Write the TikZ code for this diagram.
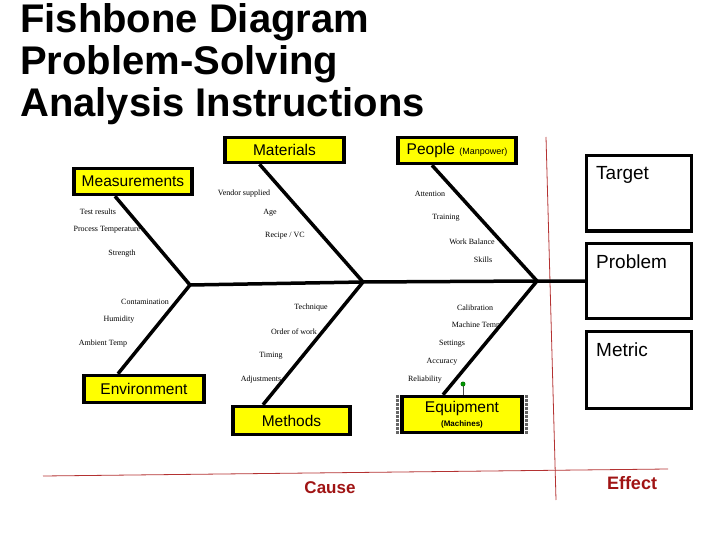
\documentclass[tikz,border=0pt]{standalone}
\usepackage{fontspec}
\usepackage{tikz}
\usetikzlibrary{calc}
\newfontfamily\arialf{Liberation Sans}
\newfontfamily\tnrf{Liberation Serif}
\definecolor{causered}{RGB}{160,20,20}
\definecolor{gridred}{RGB}{180,50,50}
\definecolor{boxyellow}{RGB}{255,255,0}
\tikzset{
  catbox/.style={draw=black, line width=3.5pt, fill=boxyellow, inner sep=0pt,
    font=\arialf\fontsize{15.5}{17}\selectfont},
  sidebox/.style={draw=black, line width=3pt, fill=white, inner sep=0pt,
    minimum width=105pt, minimum height=75pt},
  bone/.style={draw=black, line width=3.5pt},
  cause/.style={font=\tnrf\fontsize{8}{9}\selectfont, inner sep=0pt},
  axis/.style={draw=gridred, line width=0.8pt},
  titleline/.style={anchor=base west, inner sep=0pt, font=\arialf\bfseries\fontsize{40}{42}\selectfont}
}
\begin{document}
\begin{tikzpicture}[x=1pt,y=-1pt]
\useasboundingbox (0,0) rectangle (720,540);
% title:
\node[titleline] (title1) at (20,33) {Fishbone Diagram};
\node[titleline] (title2) at (20,75) {Problem-Solving};
\node[titleline] (title3) at (20,117) {Analysis Instructions};
% red cause / effect lines:
\coordinate (axl) at (43,476);
\coordinate (axr) at (668,469);
\coordinate (axt) at (546,137);
\coordinate (axb) at (556,500);
\draw[axis] (axl) -- (axr);
\draw[axis] (axt) -- (axb);
\node[font=\arialf\bfseries\fontsize{17}{18}\selectfont, text=causered] (cause) at (330,488) {Cause};
\node[font=\arialf\bfseries\fontsize{18}{19}\selectfont, text=causered] (effect) at (632,483) {Effect};
% right hand boxes:
\node[sidebox] (target) at (639,193.5) {};
\node[sidebox] (prob) at (639,281) {};
\node[sidebox, minimum height=77pt] (metric) at (639,370) {};
\node[anchor=base west, inner sep=0pt, font=\arialf\fontsize{19}{20}\selectfont] (targett) at (596,180) {Target};
\node[anchor=base west, inner sep=0pt, font=\arialf\fontsize{19}{20}\selectfont] (probt) at (596,268) {Problem};
\node[anchor=base west, inner sep=0pt, font=\arialf\fontsize{19}{20}\selectfont] (metrict) at (596,356) {Metric};
% spine:
\coordinate (j1) at (190,285);
\coordinate (j2) at (363,282);
\coordinate (j3) at (537,281);
\draw[bone] (j1) -- (j2) -- (j3) -- (prob.west);
% category boxes:
\node[catbox, minimum width=119pt, minimum height=25pt] (mat) at (284.5,150) {Materials};
\node[catbox, minimum width=118pt, minimum height=26pt] (people) at (457,150.5) {People {\fontsize{9}{10}\selectfont (Manpower)}};
\node[catbox, minimum width=118pt, minimum height=26pt] (meas) at (133,181.5) {Measurements};
\node[catbox, minimum width=120pt, minimum height=27pt] (env) at (144,389) {Environment};
\node[catbox, minimum width=117pt, minimum height=28pt] (meth) at (291.5,420.5) {Methods};
\node[catbox, minimum width=120pt, minimum height=36pt, align=center] (equip) at (462,414.5)
  {Equipment\\[-3pt]{\fontsize{8}{9}\selectfont\bfseries (Machines)}};
% bones:
\draw[bone] ([xshift=-18pt]meas.south) -- (j1);
\draw[bone] ([xshift=-26pt]env.north) -- (j1);
\draw[bone] ([xshift=-25pt]mat.south) -- (j2);
\draw[bone] ([xshift=-28.5pt]meth.north) -- (j2);
\draw[bone] ([xshift=-25pt]people.south) -- (j3);
\draw[bone] ([xshift=-19pt]equip.north) -- (j3);
% selection handles on equipment:
\coordinate (rot) at (463,384);
\draw[black!70, line width=0.6pt] (rot) -- (equip.north -| rot);
\filldraw[fill=green!60!black, draw=green!40!black] (rot) circle (2.2);
\draw[black!60, line width=3pt, densely dotted] ([xshift=-3pt]equip.north west) -- ([xshift=-3pt]equip.south west);
\draw[black!60, line width=3pt, densely dotted] ([xshift=3pt]equip.north east) -- ([xshift=3pt]equip.south east);
% causes:
\node[cause] (c1) at (98,212) {Test results};
\node[cause] (c2) at (107,230) {Process Temperature};
\node[cause] (c3) at (122,254) {Strength};
\node[cause] (c4) at (244,194) {Vendor supplied};
\node[cause] (c5) at (270,213) {Age};
\node[cause] (c6) at (285,236) {Recipe / VC};
\node[cause] (c7) at (430,194) {Attention};
\node[cause] (c8) at (446,218) {Training};
\node[cause] (c9) at (472,242) {Work Balance};
\node[cause] (c10) at (483,260) {Skills};
\node[cause] (c11) at (145,302) {Contamination};
\node[cause] (c12) at (119,320) {Humidity};
\node[cause] (c13) at (103,344) {Ambient Temp};
\node[cause] (c14) at (311,308) {Technique};
\node[cause] (c15) at (294,332) {Order of work};
\node[cause] (c16) at (271,356) {Timing};
\node[cause] (c17) at (261,380) {Adjustments};
\node[cause] (c18) at (475,308) {Calibration};
\node[cause] (c19) at (476,326) {Machine Temp};
\node[cause] (c20) at (452,344) {Settings};
\node[cause] (c21) at (442,362) {Accuracy};
\node[cause] (c22) at (425,380) {Reliability};
\end{tikzpicture}
\end{document}
